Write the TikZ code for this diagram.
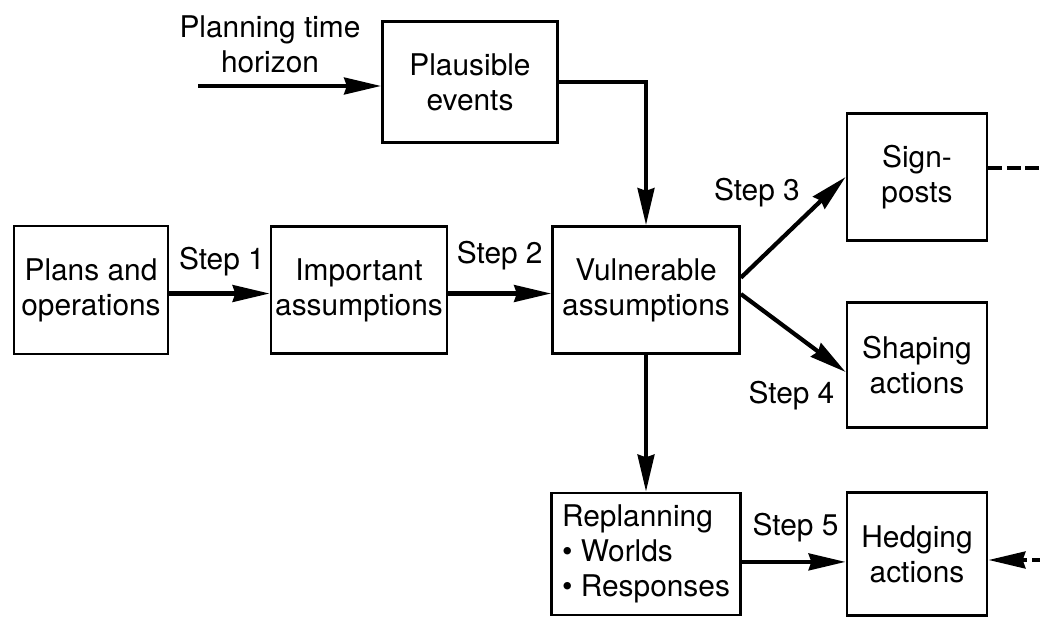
\documentclass[tikz,border=0pt]{standalone}
\usepackage{fontspec}
\setmainfont{TeX Gyre Heros}
\usepackage{tikz}
\usetikzlibrary{arrows.meta, positioning}

\begin{document}
\begin{tikzpicture}[
            x=0.02cm, y=-0.02cm,
            font=\fontsize{17}{20}\selectfont,
            block/.style={draw, line width=1.6pt, align=center, inner sep=0pt},
            flow/.style={->, line width=2.4pt},
            dashflow/.style={line width=2.4pt, dash pattern=on 8pt off 2.5pt},
            >={Stealth[length=21pt, width=9.5pt, inset=1.5pt]}
        ]
        \useasboundingbox (0,0) rectangle (1040,617);

        \node[block, minimum width=3.08cm, minimum height=2.56cm] (plans) at (91,290) {Plans and\\operations};
        \node[block, minimum width=3.52cm, minimum height=2.54cm] (important) at (359,290) {Important\\assumptions};
        \node[block, minimum width=3.74cm, minimum height=2.54cm] (vulnerable) at (646,290) {Vulnerable\\assumptions};
        \node[block, minimum width=3.5cm, minimum height=2.42cm] (plausible) at (470,82) {Plausible\\events};
        \node[block, minimum width=2.8cm, minimum height=2.54cm] (signposts) at (917,177) {Sign-\\posts};
        \node[block, minimum width=2.8cm, minimum height=2.5cm] (shaping) at (917,365) {Shaping\\actions};
        \node[block, minimum width=3.78cm, minimum height=2.44cm, align=left] (replanning) at (646,554)
            {Replanning\\\textbullet{} Worlds\\\textbullet{} Responses};
        \node[block, minimum width=2.8cm, minimum height=2.46cm] (hedging) at (917,554) {Hedging\\actions};

        \node[align=center] (horizonlabel) at (270,44) {Planning time\\horizon};

        \coordinate (horizon) at (198,86);
        \coordinate (signout) at (1040,168);
        \coordinate (hedgein) at (1040,560);

        \draw[flow] (horizon) -- (horizon -| plausible.west);
        \draw[flow] (plausible.east) -| (vulnerable.north);
        \draw[flow] (vulnerable.south) -- (replanning.north);

        \draw[flow] ([yshift=-2pt]plans.east)
            -- node[midway, xshift=1.4pt, yshift=18pt] (step1) {Step 1} ([yshift=-2pt]important.west);
        \draw[flow] ([yshift=-2pt]important.east)
            -- node[midway, yshift=21.5pt] (step2) {Step 2} ([yshift=-2pt]vulnerable.west);
        \draw[flow] ([yshift=7pt]vulnerable.east)
            -- node[midway, xshift=-20.7pt, yshift=19.8pt] (step3) {Step 3} (signposts.west);
        \draw[flow] ([yshift=-2.3pt]vulnerable.east)
            -- node[midway, xshift=-1pt, yshift=-35.4pt] (step4) {Step 4} ([yshift=-4pt]shaping.west);
        \draw[flow] ([yshift=-4.5pt]replanning.east)
            -- node[midway, xshift=1pt, yshift=19.8pt] (step5) {Step 5} ([yshift=-4.5pt]hedging.west);

        \draw[dashflow] (signposts.east |- signout) -- (signout);
        \draw[flow, dash pattern=on 4.5pt off 3pt] (hedgein) -- (hedgein -| hedging.east);
    \end{tikzpicture}
\end{document}
